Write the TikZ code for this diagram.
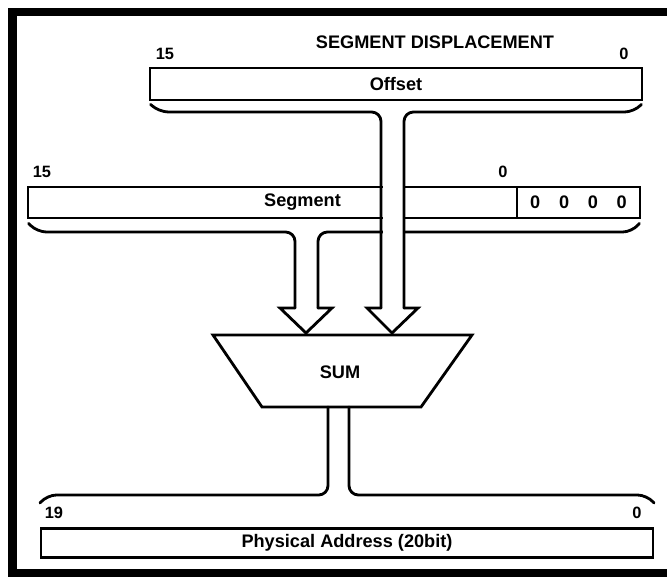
\documentclass[tikz,border=0pt]{standalone}
\usepackage{fontspec}
\setmainfont{Liberation Sans}
\usetikzlibrary{positioning, calc}

\begin{document}
\begin{tikzpicture}[
    x=0.03cm, y=-0.03cm,
    reg/.style={rectangle, draw, line width=2.4pt, minimum height=0.93cm, inner sep=0pt, font=\fontsize{15.5}{17}\selectfont\bfseries},
    bus/.style={line width=2.4pt, rounded corners=8, line cap=round},
    head/.style={line width=2.4pt, line join=miter, line cap=round},
    bitno/.style={font=\fontsize{14}{16}\selectfont\bfseries},
    title/.style={font=\fontsize{15.5}{17}\selectfont\bfseries}
]
\useasboundingbox (0,0) rectangle (667,576);
% frame, open on the right
\draw[line width=7pt] (667,12) -- (12.5,12) -- (12.5,573) -- (667,573);

% Offset register
\node[title] (disp) at (435,42) {SEGMENT DISPLACEMENT};
\node[reg, minimum width=14.76cm, minimum height=0.96cm] (offset) at (396,84) {Offset};
\node[bitno] (offhi) at (165,54) {15};
\node[bitno] (offlo) at (624,54) {0};

% Segment register
\node[reg, minimum width=14.67cm] (segment) at (272.5,202.5) {\hspace*{1.8cm}Segment};
\node[reg, minimum width=3.69cm] (zeros) at (578.5,202.5) {0\hspace{16pt}0\hspace{16pt}0\hspace{16pt}0};
\node[bitno] (seghi) at (42,172) {15};
\node[bitno] (seglo) at (503,172) {0};

% Adder
\draw[head] (213,335) -- (472,335) -- (421,407) -- (262,407) -- cycle;
\node[reg, draw=none] (sum) at (340,372) {SUM};

% Physical address
\node[reg, minimum width=18.36cm, minimum height=0.87cm] (phys) at (347,543) {Physical Address (20bit)};
\node[bitno] (physhi) at (54,513) {19};
\node[bitno] (physlo) at (637,513) {0};

% Segment bus into the adder
\draw[bus] ([shift={(2,4)}]segment.south west) -- (37,232) -- (295,232) -- (295,308);
\draw[head] (295,308) -- (280,308) -- (306,333) -- (332,308) -- (318,308);
\draw[bus] (318,308) -- (318,232) -- (632,232) -- ([shift={(-2,4)}]zeros.south east);

% Offset bus, crossing the segment register
\fill[white] (382.5,114) rectangle (402.5,306);
\draw[bus] ([shift={(2,3)}]offset.south west) -- (159,112) -- (381,112) -- (381,308);
\draw[head] (381,308) -- (367,308) -- (392,333) -- (418,308) -- (404,308);
\draw[bus] (404,308) -- (404,112) -- (634,112) -- ([shift={(-2,3)}]offset.south east);

% Sum out to the physical address
\draw[bus] (328,407) -- (328,495) -- (47,495) -- (40,503);
\draw[bus] (349,407) -- (349,495) -- (647,495) -- (654,503);
\end{tikzpicture}
\end{document}
